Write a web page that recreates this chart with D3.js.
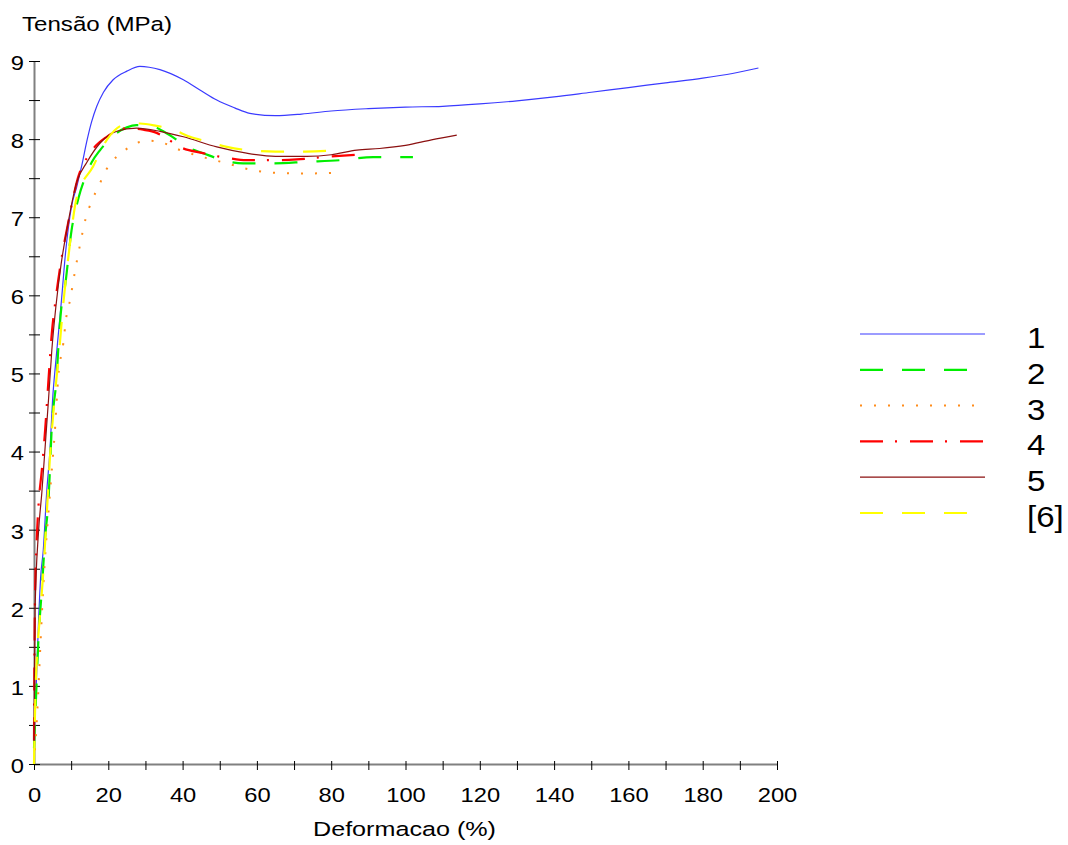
<!DOCTYPE html>
<html>
<head>
<meta charset="utf-8">
<script src="https://cdn.jsdelivr.net/npm/d3@7"></script>
<style>
  body { margin: 0; background: #fff; }
  svg { font-family: 'Liberation Sans', Arial, sans-serif; }
</style>
</head>
<body>
<div id="chart"></div>
<script>
// strain (%) / stress (MPa), one pair of arrays per specimen
const strain1 = [0, 0.6, 1.2, 1.8, 2.5, 3.4, 4.3, 5, 5.9, 7, 7.4, 8.5, 10.1, 11.5, 12.8, 14.3, 15.5, 16.9, 18.7, 21.3, 25, 28.5, 31, 33.9, 40.2, 45, 49.2, 54, 58.1, 65, 72, 80, 90, 100, 110, 120, 130, 140, 150, 160, 170, 180, 188, 195]
const stress1 = [0.3, 1, 1.8, 2.4, 2.74, 3.47, 4.02, 4.66, 5.17, 5.73, 5.94, 6.55, 7.14, 7.39, 7.65, 7.99, 8.22, 8.42, 8.6, 8.76, 8.87, 8.93, 8.92, 8.89, 8.76, 8.62, 8.5, 8.4, 8.33, 8.3, 8.32, 8.36, 8.39, 8.41, 8.42, 8.45, 8.49, 8.54, 8.6, 8.66, 8.72, 8.78, 8.84, 8.91]

const strain2 = [0, 0.5, 1.2, 2.1, 3, 3.9, 4.8, 6.1, 6.8, 7.4, 8.3, 10.1, 12, 13.7, 15.5, 17.8, 20, 22.3, 25, 27.6, 30, 32, 34, 36.6, 41.1, 45.5, 50.9, 56.3, 64.4, 73.4, 82.4, 91.3, 102]
const stress2 = [0.2, 0.8, 1.6, 2.23, 2.9, 3.38, 4.32, 4.96, 5.52, 5.86, 6.1, 6.83, 7.25, 7.5, 7.7, 7.86, 7.98, 8.08, 8.15, 8.18, 8.18, 8.17, 8.12, 8.05, 7.9, 7.82, 7.73, 7.69, 7.69, 7.71, 7.73, 7.77, 7.77]

const strain3 = [0, 0.8, 1.8, 2.5, 4.3, 5.7, 6.5, 7.9, 8.6, 9.7, 11, 12.4, 14, 15.5, 17.8, 19.6, 21.3, 24, 27.6, 31.2, 34.8, 39.3, 44.7, 51.9, 58.1, 64.4, 73.4, 81.5]
const stress3 = [0, 0.6, 1.6, 2.27, 3.47, 4.32, 4.94, 5.39, 5.69, 5.94, 6.3, 6.65, 7, 7.2, 7.44, 7.62, 7.73, 7.84, 7.95, 7.98, 7.95, 7.86, 7.78, 7.69, 7.61, 7.57, 7.56, 7.57]

const strain4 = [0, 0.1, 0.3, 0.7, 1.2, 2.1, 3, 3.9, 4.8, 5.7, 7, 9.2, 11.8, 15.1, 19.6, 25, 29.4, 33, 36, 39.3, 45.5, 51.9, 57.3, 64.4, 70.7, 77.9, 86.9]
const stress4 = [0.3, 1.2, 2.19, 2.83, 3.3, 3.76, 4.28, 4.92, 5.52, 5.9, 6.35, 6.93, 7.5, 7.82, 8.03, 8.14, 8.12, 8.08, 8, 7.9, 7.82, 7.76, 7.73, 7.73, 7.74, 7.77, 7.8]

const strain5 = [0, 0.1, 0.3, 1.2, 2.1, 3, 3.9, 4.8, 5.9, 7.3, 8.8, 11.5, 14.2, 17.8, 22.3, 27.6, 33.9, 40.2, 49.2, 57.2, 65, 73.4, 80, 86.9, 93, 100, 107, 113.8]
const stress5 = [0.3, 1, 2, 2.96, 3.47, 4.06, 4.66, 5.3, 5.86, 6.4, 6.83, 7.45, 7.7, 7.95, 8.1, 8.14, 8.1, 8.03, 7.9, 7.82, 7.78, 7.78, 7.8, 7.86, 7.88, 7.92, 7.99, 8.05]

const strain6 = [0, 0.4, 1.6, 2.3, 3.4, 4.3, 5.5, 6.8, 7.9, 9.2, 11.5, 15.9, 19.6, 24, 28.5, 33, 37.5, 42, 46.5, 51.9, 57.3, 65, 73, 82]
const stress6 = [0, 0.9, 1.9, 2.32, 3.17, 3.93, 4.66, 5.3, 5.9, 6.47, 7.25, 7.65, 7.99, 8.18, 8.2, 8.17, 8.12, 8.03, 7.97, 7.9, 7.86, 7.84, 7.84, 7.86]

const seriesNames = ['1', '2', '3', '4', '5', '[6]']
const xTicks = d3.range(0, 201, 10)
const yTicks = d3.range(0, 9.01, 0.5)

const series = [
  { name: seriesNames[0], x: strain1, y: stress1, color: '#3a3aff', width: 1.2, dash: null },
  { name: seriesNames[1], x: strain2, y: stress2, color: '#00ee00', width: 2.2, dash: '23,19' },
  { name: seriesNames[2], x: strain3, y: stress3, color: '#ff8c1a', width: 2, dash: '2,12' },
  { name: seriesNames[3], x: strain4, y: stress4, color: '#ff0000', width: 2.2, dash: '23,12,2,13' },
  { name: seriesNames[4], x: strain5, y: stress5, color: '#8b1010', width: 1.2, dash: null },
  { name: seriesNames[5], x: strain6, y: stress6, color: '#ffff00', width: 2.2, dash: '23,19' }
]

const width = 1068
const height = 845
const plot = { left: 34, right: 777, top: 61, bottom: 764 }
const stretch = 1.13 // the original font is drawn a bit wider than Liberation

const svg = d3.select('#chart')
  .append('svg')
  .attr('width', width)
  .attr('height', height)

const xScale = d3.scaleLinear().domain([0, 200]).range([plot.left, plot.right])
const yScale = d3.scaleLinear().domain([0, 9]).range([plot.bottom, plot.top])

/**
 * Draws both axes with the small crossing ticks.
 */
function drawAxes () {
  const gx = svg.append('g')
    .attr('transform', 'translate(0,' + plot.bottom + ')')
    .call(d3.axisBottom(xScale).tickValues(xTicks).tickSizeOuter(0)
      .tickFormat(d => d % 20 === 0 ? d : ''))
  gx.select('.domain').attr('stroke', '#808080').attr('stroke-width', 2)
  gx.selectAll('.tick line').attr('y1', -3).attr('y2', 6).attr('stroke', '#000')
  gx.selectAll('.tick text')
    .attr('y', 38).attr('dy', null)
    .attr('transform', 'scale(' + stretch + ',1)')
    .attr('font-size', 21).attr('fill', '#000')
    .attr('font-family', "'Liberation Sans', Arial, sans-serif")

  const gy = svg.append('g')
    .attr('transform', 'translate(' + plot.left + ',0)')
    .call(d3.axisLeft(yScale).tickValues(yTicks).tickSizeOuter(0)
      .tickFormat(d => Number.isInteger(d) ? d : ''))
  gy.select('.domain').attr('stroke', '#808080').attr('stroke-width', 2)
  gy.selectAll('.tick line').attr('x1', -5).attr('x2', 6).attr('stroke', '#000')
  gy.selectAll('.tick text')
    .attr('x', -10 / stretch).attr('dy', '0.4em')
    .attr('transform', 'scale(' + stretch + ',1)')
    .attr('font-size', 21).attr('fill', '#000')
    .attr('font-family', "'Liberation Sans', Arial, sans-serif")
}

/**
 * Adds the axis titles.
 */
function drawLabels () {
  svg.append('text')
    .text('Tensão (MPa)')
    .attr('x', 22)
    .attr('y', 31)
    .attr('font-size', 20.5)
    .attr('textLength', 150)
    .attr('lengthAdjust', 'spacingAndGlyphs')

  svg.append('text')
    .text('Deformacao (%)')
    .attr('x', 313)
    .attr('y', 836)
    .attr('font-size', 20.5)
    .attr('textLength', 183)
    .attr('lengthAdjust', 'spacingAndGlyphs')
}

/**
 * Draws each specimen curve.
 */
function drawCurves () {
  const line = d3.line()
    .x(d => xScale(d[0]))
    .y(d => yScale(d[1]))
    .curve(d3.curveMonotoneX)

  svg.append('g').selectAll('path')
    .data(series)
    .join('path')
    .attr('d', s => line(s.x.map((v, i) => [v, s.y[i]])))
    .attr('fill', 'none')
    .attr('stroke', s => s.color)
    .attr('stroke-width', s => s.width)
    .attr('stroke-dasharray', s => s.dash)
}

/**
 * Legend on the right side.
 */
function drawLegend () {
  const rowY = d3.scalePoint().domain(seriesNames).range([334, 513])
  const g = svg.append('g').selectAll('g')
    .data(series)
    .join('g')
    .attr('transform', s => 'translate(0,' + rowY(s.name) + ')')

  g.append('line')
    .attr('x1', 860).attr('x2', 985)
    .attr('stroke', s => s.color)
    .attr('stroke-width', s => s.width)
    .attr('stroke-dasharray', s => s.dash)

  g.append('text')
    .text(s => s.name)
    .attr('x', 1027 / 1.1)
    .attr('y', 14)
    .attr('transform', 'scale(1.1,1)')
    .attr('font-size', 30)
}

drawAxes()
drawLabels()
drawCurves()
drawLegend()
</script>
</body>
</html>
